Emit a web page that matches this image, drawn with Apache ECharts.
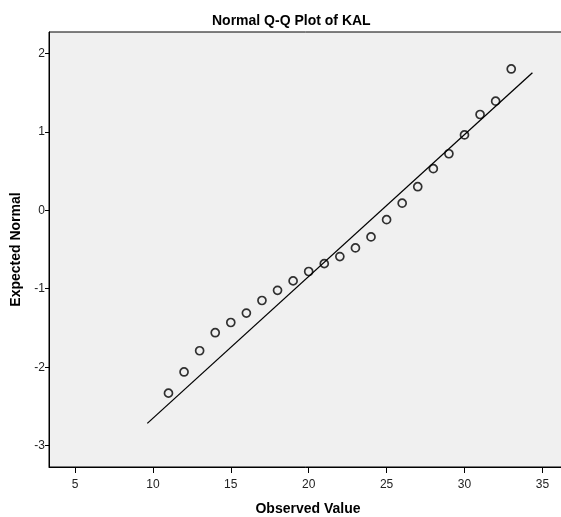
<!DOCTYPE html>
<html>
<head>
<meta charset="utf-8">
<script src="https://cdn.jsdelivr.net/npm/echarts@6/dist/echarts.min.js"></script>
<style>html,body{margin:0;padding:0;background:#fff;}#c{width:561px;height:517px;}</style>
</head>
<body>
<div id="c"></div>
<script>
// Observed values and their expected normal quantiles
const observed = [11,12,13,14,15,16,17,18,19,20,21,22,23,24,25,26,27,28,29,30,31,32,33];
const expected = [-2.33,-2.06,-1.79,-1.56,-1.43,-1.31,-1.15,-1.02,-0.90,-0.78,-0.68,-0.59,-0.48,-0.34,-0.12,0.09,0.30,0.53,0.72,0.96,1.22,1.39,1.80];
// Reference line end points
const lineX = [9.64, 34.36];
const lineY = [-2.715, 1.753];
// Tick labels
const xTicks = [5,10,15,20,25,30,35];
const yTicks = [-3,-2,-1,0,1,2];

const FONT = "'Liberation Sans',Arial,sans-serif";
const chart = echarts.init(document.getElementById('c'), null, {renderer:'canvas'});
chart.setOption({
  animation:false,
  backgroundColor:'#ffffff',
  title:{
    text:'Normal Q-Q Plot of KAL',
    left:207, top:9,
    textStyle:{fontFamily:FONT, fontWeight:'bold', fontSize:14, color:'#000'}
  },
  grid:{left:49, top:32, right:-6, bottom:50, containLabel:false, outerBoundsMode:'none',
        show:true, backgroundColor:'#f0f0f0', borderColor:'#000', borderWidth:1},
  xAxis:{
    type:'value', min:3.331, max:36.58,
    name:'Observed Value', nameLocation:'middle', nameGap:35,
    nameTextStyle:{fontFamily:FONT, fontWeight:'bold', fontSize:14, color:'#000'},
    axisLine:{show:true, onZero:false, lineStyle:{color:'#000', width:1}},
    axisTick:{show:true, length:6, customValues:xTicks, lineStyle:{color:'#000', width:1}},
    axisLabel:{customValues:xTicks, fontFamily:FONT, fontSize:12, color:'#222', margin:12},
    splitLine:{show:false}
  },
  yAxis:{
    type:'value', min:-3.271, max:2.271,
    name:'Expected Normal', nameLocation:'middle', nameGap:25,
    nameTextStyle:{fontFamily:FONT, fontWeight:'bold', fontSize:14, color:'#000'},
    axisLine:{show:true, onZero:false, lineStyle:{color:'#000', width:1}},
    axisTick:{show:true, length:4, customValues:yTicks, lineStyle:{color:'#000', width:1}},
    axisLabel:{customValues:yTicks, fontFamily:FONT, fontSize:12, color:'#222', margin:4},
    splitLine:{show:false}
  },
  series:[
    {
      type:'line',
      data:lineX.map((x,i)=>[x,lineY[i]]),
      symbol:'none',
      lineStyle:{color:'#000', width:1.3},
      silent:true
    },
    {
      type:'scatter',
      data:observed.map((x,i)=>[x,expected[i]]),
      symbol:'circle',
      symbolSize:8,
      itemStyle:{color:'rgba(0,0,0,0)', borderColor:'#000', borderWidth:1.7}
    }
  ]
});
</script>
</body>
</html>
